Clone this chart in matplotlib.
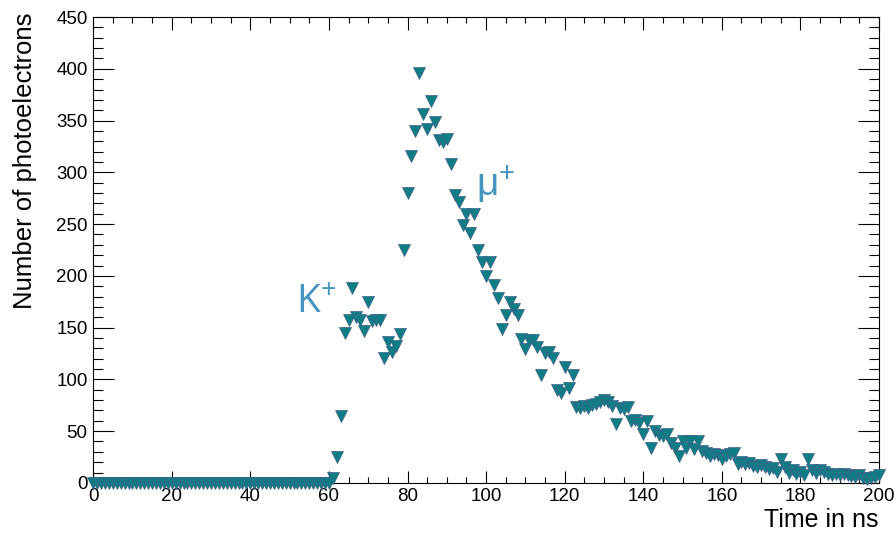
import matplotlib

matplotlib.use("Agg")
import matplotlib.pyplot as plt
import numpy as np
from matplotlib.ticker import MultipleLocator

plt.rcParams["font.family"] = ["Liberation Sans", "DejaVu Sans"]
plt.rcParams["mathtext.default"] = "regular"

# time bins (ns) and photoelectron counts
time_ns = np.arange(0, 201)
counts_flat = [0] * 60  # 0..59 ns: no signal
counts_pulse = [
    0, 5, 25, 65, 145, 157, 188, 160, 157, 147,          # 60-69
    175, 156, 157, 157, 121, 136, 126, 132, 144, 225,    # 70-79
    280, 316, 340, 396, 356, 342, 369, 349, 331, 329,    # 80-89
    332, 308, 278, 271, 249, 260, 241, 260, 225, 213,    # 90-99
    200, 213, 191, 179, 149, 162, 175, 168, 162, 139,    # 100-109
    129, 138, 138, 131, 104, 125, 126, 121, 90, 87,      # 110-119
    112, 92, 104, 73, 72, 74, 72, 75, 76, 78,            # 120-129
    80, 78, 74, 57, 72, 71, 73, 60, 61, 58,              # 130-139
    47, 60, 34, 50, 46, 45, 47, 39, 34, 26,              # 140-149
    40, 34, 40, 33, 40, 31, 29, 26, 28, 27,              # 150-159
    23, 26, 28, 29, 18, 20, 18, 19, 16, 15,              # 160-169
    17, 15, 13, 14, 11, 23, 15, 10, 12, 9,               # 170-179
    11, 8, 23, 12, 10, 12, 11, 9, 8, 9,                  # 180-189
    8, 9, 8, 7, 6, 8, 5, 4, 5, 6,                        # 190-199
    8,                                                   # 200
]
counts = np.array(counts_flat + counts_pulse)

fig = plt.figure(figsize=(8.96, 5.33), dpi=100)
ax = fig.add_axes([0.104, 0.094, 0.877, 0.874])

ax.plot(time_ns, counts, linestyle="none", marker="v", markersize=8.5,
        markerfacecolor="#0e7e84", markeredgecolor="#3f5d8c",
        markeredgewidth=0.5, clip_on=False, zorder=3)

ax.set_xlim(0, 200)
ax.set_ylim(0, 450)
ax.xaxis.set_major_locator(MultipleLocator(20))
ax.xaxis.set_minor_locator(MultipleLocator(5))
ax.yaxis.set_major_locator(MultipleLocator(50))
ax.yaxis.set_minor_locator(MultipleLocator(10))

ax.tick_params(which="both", direction="in", top=True, right=True,
               labelsize=13.5, colors="black", width=0.8)
ax.tick_params(axis="x", which="major", length=9, pad=4)
ax.tick_params(axis="x", which="minor", length=4.5)
ax.tick_params(axis="y", which="major", length=15, pad=4)
ax.tick_params(axis="y", which="minor", length=7.5)
for side in ax.spines.values():
    side.set_linewidth(0.8)

ax.set_xlabel("Time in ns", fontsize=18, loc="right", labelpad=2)
ax.set_ylabel("Number of photoelectrons", fontsize=18.5, loc="top",
              labelpad=14)
ax.yaxis.label.set_y(1.01)

ax.text(62, 192, "K$^{+}$", fontsize=28, color="#4595c0",
        family=["Open Sans", "DejaVu Sans"], ha="right", va="top")
ax.text(97.5, 308, r"$\mu^{+}$", fontsize=28, color="#4595c0",
        ha="left", va="top")

fig.savefig("out.png", dpi=100)
